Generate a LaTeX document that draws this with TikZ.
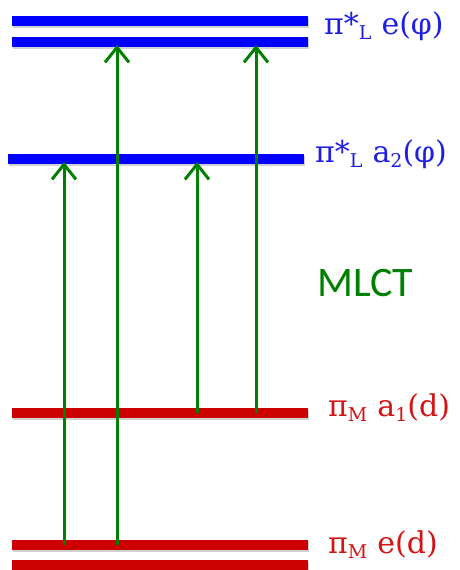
\documentclass[tikz,border=0pt]{standalone}
\usepackage{fontspec}
\setmainfont{DejaVu Serif}
\newfontfamily\mlctfont{Carlito}
\usetikzlibrary{arrows.meta}
\definecolor{lvblue}{RGB}{0,0,255}
\definecolor{lvred}{RGB}{204,0,0}
\definecolor{txblue}{RGB}{30,30,230}
\definecolor{txred}{RGB}{210,20,20}
\definecolor{trgreen}{RGB}{0,128,0}
\newcommand{\subL}[1]{\raisebox{-0.35ex}{\fontsize{19}{19}\selectfont #1}}
\begin{document}
\begin{tikzpicture}[x=1pt,y=-1pt,
  level/.style={line width=10pt},
  shadowline/.style={line width=10pt,black,opacity=0.18},
  trans/.style={draw=trgreen,line width=3pt,-{Straight Barb[length=15pt,width=24pt,line width=3pt]}},
  lab/.style={anchor=base west,inner sep=0pt,font=\fontsize{30}{30}\selectfont}]
\useasboundingbox (0,0) rectangle (460,570);
% level end points
\coordinate (eL1a) at (12,21);   \coordinate (eL1b) at (308,21);
\coordinate (eL2a) at (12,41.5); \coordinate (eL2b) at (308,41.5);
\coordinate (a2a) at (8,158.5);  \coordinate (a2b) at (304,158.5);
\coordinate (a1a) at (12,413);   \coordinate (a1b) at (308,413);
\coordinate (eM1a) at (12,545);  \coordinate (eM1b) at (308,545);
\coordinate (eM2a) at (12,565);  \coordinate (eM2b) at (308,565);
% shadows
\foreach \p in {eL1,eL2,a2,a1,eM1,eM2}
  \draw[shadowline] ([shift={(1,2)}]\p a) -- ([shift={(1,2)}]\p b);
% levels
\draw[level,lvblue] (eL1a) -- (eL1b);
\draw[level,lvblue] (eL2a) -- (eL2b);
\draw[level,lvblue] (a2a) -- (a2b);
\draw[level,lvred] (a1a) -- (a1b);
\draw[level,lvred] (eM1a) -- (eM1b);
\draw[level,lvred] (eM2a) -- (eM2b);
% transitions
\coordinate (s1) at (64,545);  \coordinate (t1) at (64,162);
\coordinate (s2) at (117,545); \coordinate (t2) at (117,45);
\coordinate (s3) at (197,413); \coordinate (t3) at (197,162);
\coordinate (s4) at (256,413); \coordinate (t4) at (256,45);
\draw[trans] (s1) -- (t1);
\draw[trans] (s2) -- (t2);
\draw[trans] (s3) -- (t3);
\draw[trans] (s4) -- (t4);
% labels
\node[lab,text=txblue] (lbl1) at (324,34) {π*\subL{L}\hspace{10pt}e(φ)};
\node[lab,text=txblue] (lbl2) at (315,162) {π*\subL{L}\hspace{10pt}a\subL{2}(φ)};
\node[lab,text=txred] (lbl3) at (328,416) {π\subL{M}\hspace{10pt}a\subL{1}(d)};
\node[lab,text=txred] (lbl4) at (328,553) {π\subL{M}\hspace{10pt}e(d)};
\node[anchor=base west,inner sep=0pt,text=trgreen,font=\mlctfont\fontsize{42}{42}\selectfont] (mlct) at (317,296) {MLCT};
\end{tikzpicture}
\end{document}
